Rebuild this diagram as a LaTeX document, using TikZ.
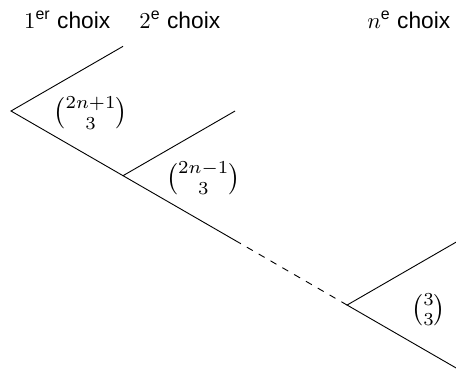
\documentclass[tikz,border=0pt]{standalone}
\usepackage{amsmath}
\usepackage[no-math]{fontspec}
\newfontfamily\choixfont{Liberation Sans}
\usetikzlibrary{calc}

\begin{document}
\begin{tikzpicture}[
    branch/.style={thin, black},
    choice/.style={font=\choixfont, anchor=base},
    coef/.style={inner sep=1pt, scale=1.15}
]
    \useasboundingbox (-0.17,-3.99) rectangle (6.88,1.716);

    \coordinate (root) at (0,0);
    \coordinate (top1) at (30:2);
    \coordinate (knot2) at (-30:2);
    \coordinate (top2) at ($(knot2)+(30:2)$);
    \coordinate (half) at ($(knot2)+(-30:2)$);
    \coordinate (knotn) at ($(knot2)+(-30:4)$);
    \coordinate (topn) at ($(knotn)+(30:1.95)$);
    \coordinate (lown) at ($(knotn)+(-30:1.95)$);

    \draw[branch] (top1) -- (root) -- (knot2);
    \draw[branch] (top2) -- (knot2) -- (half);
    \draw[branch, dashed] (half) -- (knotn);
    \draw[branch] (topn) -- (knotn) -- (lown);

    \node[coef] (c1) at ($(root)+(1.23,-0.03)$) {$\binom{2n+1}{3}$};
    \node[coef] (c2) at ($(knot2)+(1.24,-0.04)$) {$\binom{2n-1}{3}$};
    \node[coef] (cn) at ($(knotn)+(1.26,-0.07)$) {$\binom{3}{3}$};

    \node[choice] (ch1) at (0.87,1.28) {$1^{\text{er}}$ choix};
    \node[choice] (ch2) at (2.61,1.28) {$2^{\text{e}}$ choix};
    \node[choice] (chn) at (6.15,1.28) {$n^{\text{e}}$ choix};
\end{tikzpicture}
\end{document}
